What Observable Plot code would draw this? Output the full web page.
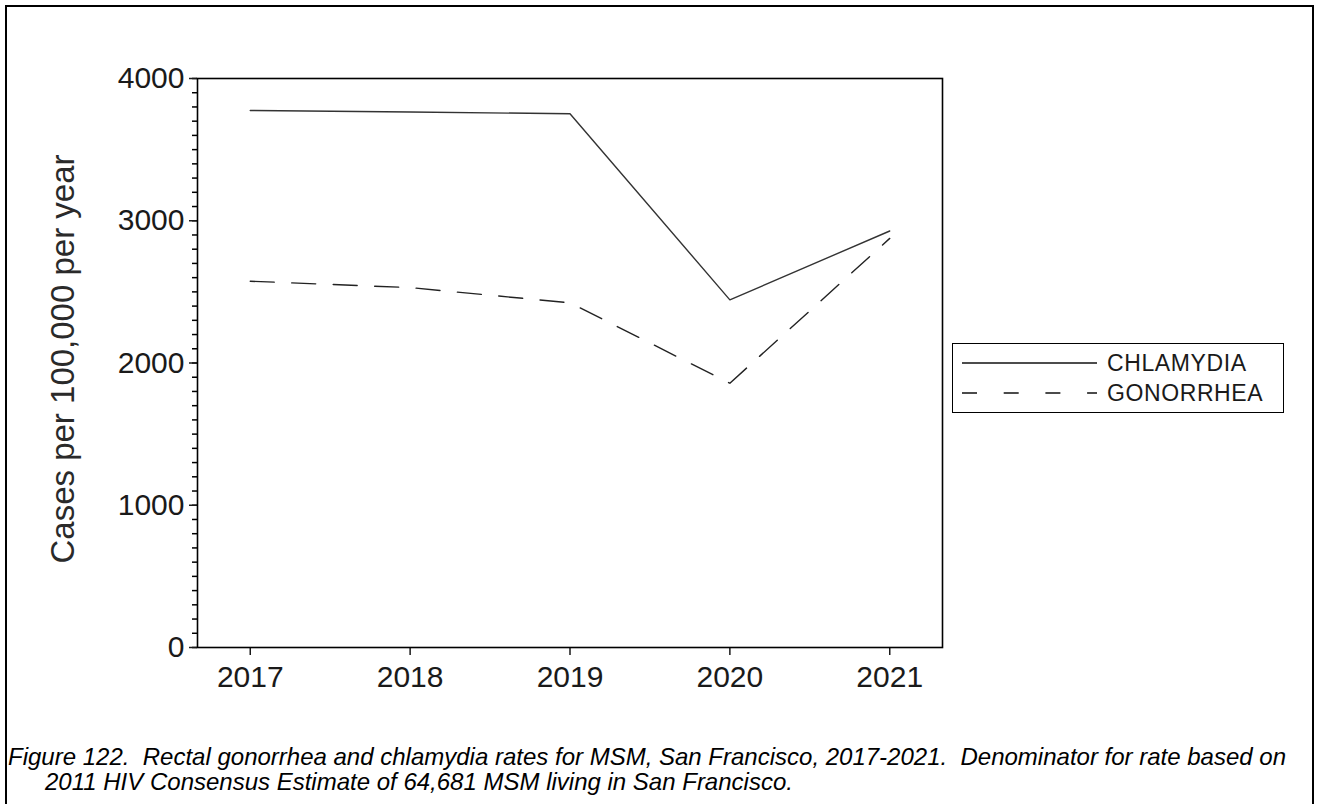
<!DOCTYPE html>
<html>
<head>
<meta charset="utf-8">
<script src="https://cdn.jsdelivr.net/npm/d3@7"></script>
<script src="https://cdn.jsdelivr.net/npm/@observablehq/plot@0.6"></script>
<style>
  html, body { margin: 0; padding: 0; background: #fff; }
  #page { position: relative; width: 1319px; height: 804px; overflow: hidden; font-family: "Liberation Sans", Arial, sans-serif; }
  #border { position: absolute; left: 5px; top: 5px; width: 1305px; height: 900px; border: 2.5px solid #000; }
  #chart { position: absolute; left: 0; top: 0; }
  #legend { position: absolute; left: 952px; top: 343px; width: 332px; height: 70px; box-sizing: border-box; border: 1.5px solid #000; background: #fff; }
  .lrow { position: absolute; left: 9px; height: 30px; display: flex; align-items: center; }
  .lrow span { font-size: 23px; color: #1a1a1a; margin-left: 9px; letter-spacing: 0.6px; }
  #caption { position: absolute; left: 8px; top: 744px; font-style: italic; font-size: 24px; line-height: 25px; color: #000; white-space: nowrap; padding-left: 37px; text-indent: -37px; }
</style>
</head>
<body>
<div id="page">
  <div id="border"></div>
  <div id="chart"></div>
  <div id="legend"></div>
  <div id="caption"></div>
</div>
<script>
// ---- data ----
const years = [2017, 2018, 2019, 2020, 2021];
const chlamydia = [3775, 3765, 3752, 2444, 2928];
const gonorrhea = [2575, 2530, 2423, 1858, 2876];
const seriesNames = ["CHLAMYDIA", "GONORRHEA"];
const yTicks = [0, 1000, 2000, 3000, 4000];
const yMinorTicks = d3.range(0, 4001, 100);
const yLabel = "Cases per 100,000 per year";
const captionLines = [
  "Figure 122.\u00a0 Rectal gonorrhea and chlamydia rates for MSM, San Francisco, 2017-2021.\u00a0 Denominator for rate based on",
  "2011 HIV Consensus Estimate of 64,681 MSM living in San Francisco."
];

const rows = [];
years.forEach((yr, i) => {
  rows.push({year: yr, value: chlamydia[i], series: seriesNames[0]});
  rows.push({year: yr, value: gonorrhea[i], series: seriesNames[1]});
});

const lineDash = "24,17.5";
const xMin = years[0] - 0.33;
const xMax = years[years.length - 1] + 0.33;

const plot = Plot.plot({
  width: 960,
  height: 720,
  marginLeft: 197,
  marginRight: 18,
  marginTop: 78,
  marginBottom: 73,
  style: {background: "transparent", fontFamily: "'Liberation Sans', Arial, sans-serif", color: "#1a1a1a", overflow: "visible"},
  x: {domain: [xMin, xMax], axis: null},
  y: {domain: [0, 4000], axis: null},
  marks: [
    Plot.ruleY(yMinorTicks, {y: d => d, x1: xMin, x2: xMin, insetLeft: -5, stroke: "#000", strokeWidth: 1.5}),
    Plot.axisY({ticks: yTicks, tickSize: 8, tickPadding: 5, tickFormat: d => String(d), fontSize: 30, label: null, strokeWidth: 1.5}),
    Plot.axisX({ticks: years, tickSize: 8, tickPadding: 10, tickFormat: d => String(d), fontSize: 30, label: null, strokeWidth: 1.5}),
    Plot.text([yLabel], {frameAnchor: "left", textAnchor: "middle", rotate: -90, dx: -134, dy: -4, fontSize: 33, fill: "#2a2a2a", text: d => d}),
    Plot.line(rows.filter(d => d.series === seriesNames[0]), {x: "year", y: "value", stroke: "#333", strokeWidth: 1.4}),
    Plot.line(rows.filter(d => d.series === seriesNames[1]), {x: "year", y: "value", stroke: "#222", strokeWidth: 1.4, strokeDasharray: lineDash}),
    Plot.frame({stroke: "#000", strokeWidth: 1.6})
  ]
});
document.getElementById("chart").appendChild(plot);

// legend
const legend = document.getElementById("legend");
const dashes = [null, "15,26.7"];
seriesNames.forEach((name, i) => {
  const row = document.createElement("div");
  row.className = "lrow";
  row.style.top = (4 + i * 30) + "px";
  const svg = d3.create("svg").attr("width", 136).attr("height", 30);
  svg.append("line").attr("x1", 0).attr("x2", 135).attr("y1", 15).attr("y2", 15)
    .attr("stroke", "#111").attr("stroke-width", 1.4)
    .attr("stroke-dasharray", dashes[i]);
  row.appendChild(svg.node());
  const sp = document.createElement("span");
  sp.textContent = name;
  row.appendChild(sp);
  legend.appendChild(row);
});

// caption
document.getElementById("caption").innerHTML = captionLines.join("<br>");
</script>
</body>
</html>
